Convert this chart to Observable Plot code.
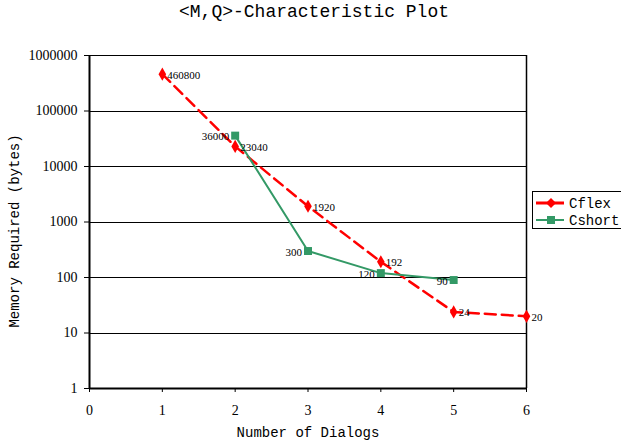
<!DOCTYPE html>
<html>
<head>
<meta charset="utf-8">
<script src="https://cdn.jsdelivr.net/npm/d3@7"></script>
<script src="https://cdn.jsdelivr.net/npm/@observablehq/plot@0.6"></script>
<style>
  body { margin: 0; background: #fff; }
  #wrap { position: relative; width: 621px; height: 444px; overflow: hidden; }
  #legend { position: absolute; left: 532px; top: 191px; width: 92px; height: 38px; border: 1px solid #000; background: #fff; box-sizing: border-box; }
  #wrap svg g[aria-label="x-axis tick label"] text,
  #wrap svg g[aria-label="y-axis tick label"] text { font-family: "Liberation Serif", "Times New Roman", serif; }
</style>
</head>
<body>
<div id="wrap"></div>
<script>
const dialogs = [0, 1, 2, 3, 4, 5, 6];
const yTicks = [1, 10, 100, 1000, 10000, 100000, 1000000];
const cflexX = [1, 2, 3, 4, 5, 6];
const cflexY = [460800, 23040, 1920, 192, 24, 20];
const cshortX = [2, 3, 4, 5];
const cshortY = [36000, 300, 120, 90];
const seriesNames = ["Cflex", "Cshort"];
const colors = ["#ff0000", "#339966"];

const cflex = cflexX.map((x, i) => ({x, y: cflexY[i]}));
const cshort = cshortX.map((x, i) => ({x, y: cshortY[i]}));

const MONO = "Liberation Mono, Courier New, monospace";
const SERIF = "Liberation Serif, Times New Roman, serif";

const chart = Plot.plot({
  width: 621,
  height: 444,
  marginLeft: 89,
  marginRight: 95,
  marginTop: 55,
  marginBottom: 56,
  style: {background: "#fff", fontFamily: SERIF},
  x: {domain: [0, 6]},
  y: {type: "log", domain: [1, 1000000]},
  marks: [
    Plot.ruleY(yTicks, {stroke: "#000", strokeWidth: 1, shapeRendering: "crispEdges"}),
    Plot.ruleX([6], {stroke: "#000", strokeWidth: 1.5}),
    Plot.ruleX([0], {stroke: "#000", strokeWidth: 2}),
    Plot.ruleY([1], {stroke: "#000", strokeWidth: 2}),
    Plot.axisX({ticks: dialogs, tickFormat: d => String(d), tickSize: 4, tickPadding: 13, fontSize: 14, fontFamily: SERIF, label: null, stroke: "#000"}),
    Plot.axisY({ticks: yTicks, tickFormat: d => String(d), tickSize: 5, tickPadding: 7, fontSize: 14, fontFamily: SERIF, label: null, stroke: "#000"}),
    Plot.line(cflex, {x: "x", y: "y", stroke: colors[0], strokeWidth: 2.5, strokeDasharray: "11,6"}),
    Plot.line(cshort, {x: "x", y: "y", stroke: colors[1], strokeWidth: 2}),
    Plot.dot(cflex, {x: "x", y: "y", symbol: "diamond", fill: colors[0], r: 4}),
    Plot.dot(cshort, {x: "x", y: "y", symbol: "square", fill: colors[1], r: 4.5}),
    Plot.text(cflex, {x: "x", y: "y", text: d => String(d.y), textAnchor: "start", dx: 5, dy: 1, fontSize: 11, fontFamily: SERIF, fill: "#000"}),
    Plot.text(cshort, {x: "x", y: "y", text: d => String(d.y), textAnchor: "end", dx: -6, dy: 1, fontSize: 11, fontFamily: SERIF, fill: "#000"}),
    Plot.text(["<M,Q>-Characteristic Plot"], {frameAnchor: "top", textAnchor: "middle", dy: -51, dx: 6, fontSize: 18, fontFamily: MONO, fill: "#000"}),
    Plot.text(["Number of Dialogs"], {frameAnchor: "bottom", textAnchor: "middle", dy: 48, fontSize: 14, fontFamily: MONO, fill: "#000"}),
    Plot.text(["Memory Required (bytes)"], {frameAnchor: "left", textAnchor: "middle", dx: -75, dy: 9, rotate: -90, fontSize: 14, fontFamily: MONO, fill: "#000"})
  ]
});

const wrap = document.getElementById("wrap");
wrap.appendChild(chart);

// legend
const leg = document.createElement("div");
leg.id = "legend";
const ns = "http://www.w3.org/2000/svg";
const svg = document.createElementNS(ns, "svg");
svg.setAttribute("width", 90);
svg.setAttribute("height", 36);
seriesNames.forEach((name, i) => {
  const cy = 11 + i * 17;
  const line = document.createElementNS(ns, "line");
  line.setAttribute("x1", 3); line.setAttribute("x2", 31);
  line.setAttribute("y1", cy); line.setAttribute("y2", cy);
  line.setAttribute("stroke", colors[i]);
  line.setAttribute("stroke-width", i === 0 ? 3 : 2);
  if (i === 0) line.setAttribute("stroke-dasharray", "12,4");
  svg.appendChild(line);
  let m;
  if (i === 0) {
    m = document.createElementNS(ns, "path");
    m.setAttribute("d", `M18,${cy-5}L23,${cy}L18,${cy+5}L13,${cy}Z`);
  } else {
    m = document.createElementNS(ns, "rect");
    m.setAttribute("x", 14); m.setAttribute("y", cy - 4);
    m.setAttribute("width", 8); m.setAttribute("height", 8);
  }
  m.setAttribute("fill", colors[i]);
  svg.appendChild(m);
  const t = document.createElementNS(ns, "text");
  t.setAttribute("x", 36); t.setAttribute("y", cy + 4.5);
  t.setAttribute("font-family", MONO);
  t.setAttribute("font-size", 14);
  t.textContent = name;
  svg.appendChild(t);
});
leg.appendChild(svg);
wrap.appendChild(leg);
</script>
</body>
</html>
